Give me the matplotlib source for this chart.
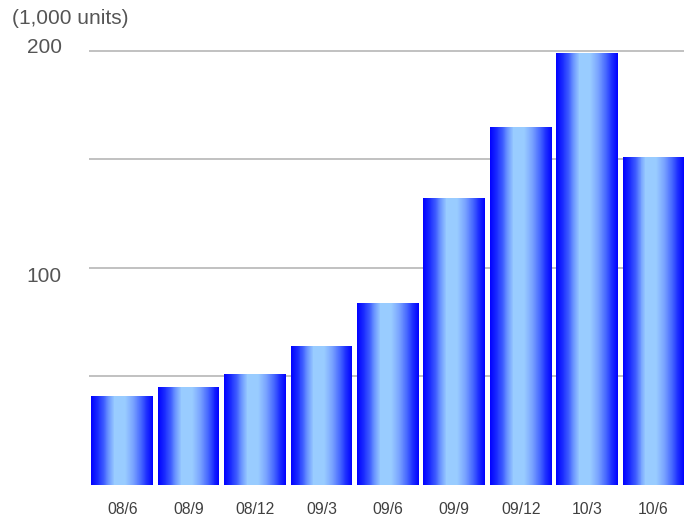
import numpy as np
import matplotlib.pyplot as plt
from matplotlib.colors import LinearSegmentedColormap
from matplotlib.transforms import ScaledTranslation

# quarterly volumes, thousands of units
periods = ['08/6', '08/9', '08/12', '09/3', '09/6', '09/9', '09/12', '10/3', '10/6']
volumes = [41, 45, 51, 64, 84, 132, 165, 199, 151]
grid_levels = [50, 100, 150, 200]
labelled_levels = ['', '100', '', '200']

plt.rcParams['font.family'] = ['Liberation Sans', 'DejaVu Sans']

# blue -> pale blue -> blue across each bar
bar_cmap = LinearSegmentedColormap.from_list(
    'bar_shade',
    [(0.0, '#0000ff'), (0.10, '#1828ff'), (0.20, '#3c5aff'), (0.28, '#6a94ff'),
     (0.38, '#99ccff'), (0.55, '#99ccff'), (0.68, '#7aa4ff'), (0.80, '#4a6cff'),
     (0.90, '#1e30ff'), (1.0, '#0000ff')])

fig = plt.figure(figsize=(6.84, 5.16), dpi=100)
ax = fig.add_axes([89 / 684, 31 / 516, 597 / 684, 445 / 516])

width = 0.93
n_strips = 62
x = np.arange(len(periods))
offsets = (np.arange(n_strips) + 0.5) / n_strips
strip_colors = bar_cmap(offsets)
for xi, v in zip(x, volumes):
    left = xi - width / 2
    ax.bar(left + offsets * width, np.full(n_strips, v), width=width / n_strips * 1.02,
           color=strip_colors, linewidth=0, antialiased=False, zorder=3)

ax.set_xlim(-0.5, 8.49)
ax.set_ylim(0, 205)

for lvl in grid_levels:
    ax.axhline(lvl, color='#bcbcbc', linewidth=1.3, zorder=1)

for side in ax.spines.values():
    side.set_visible(False)

ax.set_xticks(x)
ax.set_xticklabels(periods, fontsize=11.3, color='#404040')
ax.set_yticks(grid_levels)
ax.set_yticklabels(labelled_levels, fontsize=15, color='#555555')
ax.tick_params(axis='both', length=0)
ax.tick_params(axis='x', pad=12.5)
ax.tick_params(axis='y', pad=19.5)

# nudge the y labels a little off their grid lines
shifts = {'100': -7 / 100, '200': 5 / 100}
for lab in ax.get_yticklabels():
    dy = shifts.get(lab.get_text(), 0)
    lab.set_transform(lab.get_transform() + ScaledTranslation(0, dy, fig.dpi_scale_trans))

fig.text(12 / 684, 1 - 19 / 516, '(1,000 units)', fontsize=15, color='#555555',
         ha='left', va='center')

fig.savefig('out.png', dpi=100)
